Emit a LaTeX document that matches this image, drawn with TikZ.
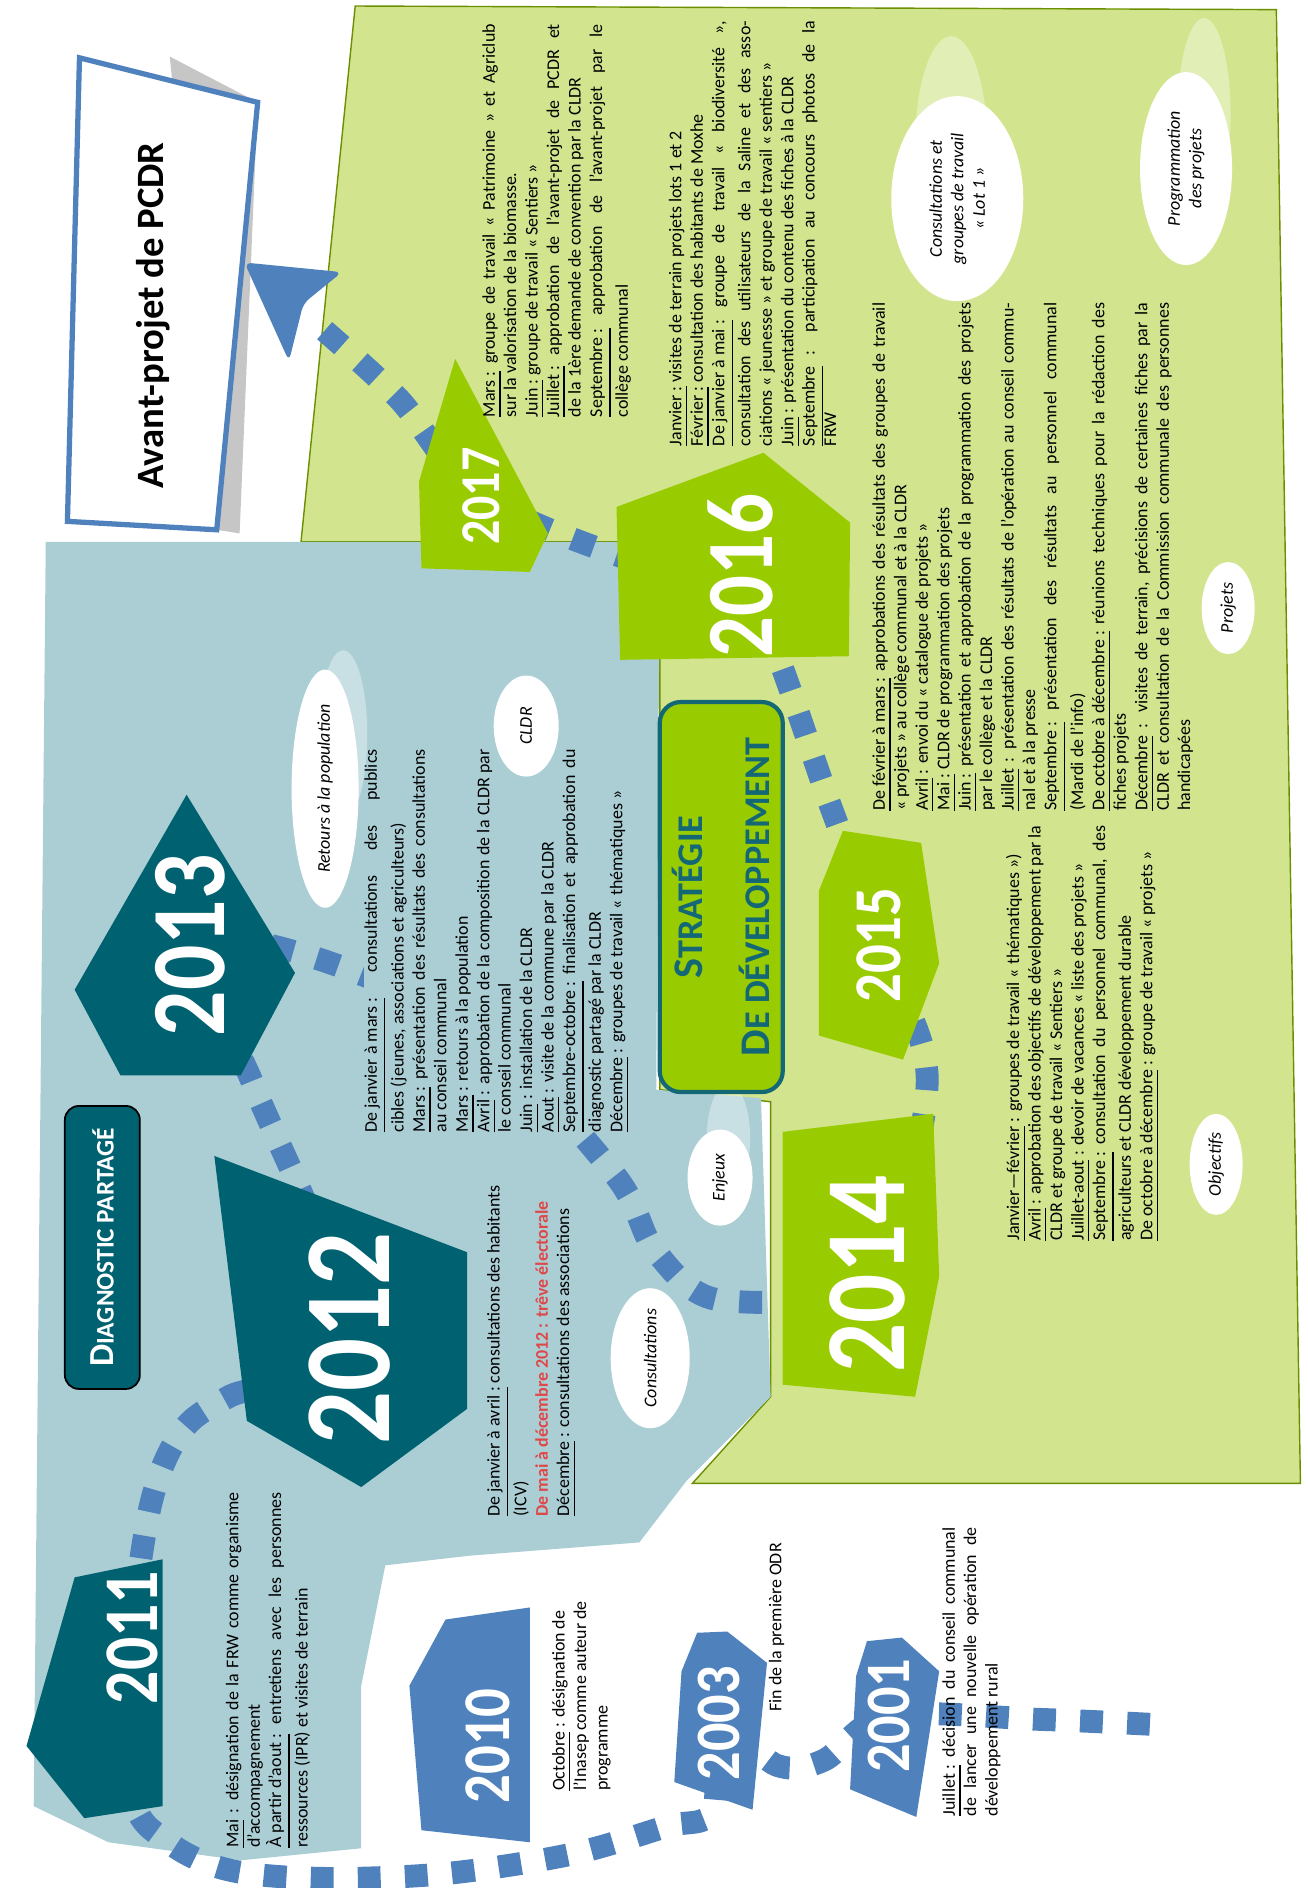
\documentclass[tikz,border=0pt]{standalone}
\usepackage{fontspec}
\setmainfont{Carlito}
\usetikzlibrary{positioning,shapes.geometric}

\definecolor{bleufond}{RGB}{171,206,213}
\definecolor{vertfond}{RGB}{210,229,142}
\definecolor{sarcelle}{RGB}{0,98,112}
\definecolor{citron}{RGB}{153,204,0}
\definecolor{acier}{RGB}{79,129,189}
\definecolor{rougetxt}{RGB}{222,72,72}
\definecolor{titretxt}{RGB}{20,104,118}
\newcommand{\mois}[1]{\underline{#1}}

\begin{document}
\begin{tikzpicture}[x=0.012044cm, y=-0.012044cm,
    every node/.style={inner sep=0pt},
    bloc/.style={rotate=90, anchor=north west, align=justify, font=\fontsize{5.1}{6.1}\selectfont},
    annee/.style={rotate=90, text=white},
    bulle/.style={ellipse, fill=white, rotate=90, align=center, font=\fontsize{5.1}{6.1}\selectfont\itshape},
    reflet/.style={white, opacity=0.35},
    chemin/.style={draw=acier, line width=6.5pt, dash pattern=on 6.5pt off 6.9pt}]

    \useasboundingbox (0,0) rectangle (1086,1568);

    % fonds
    \fill[vertfond, draw=citron!70!black, line width=0.4pt] (295,5) -- (1060,8) -- (1080,1232) -- (575,1232) -- (640,1160) -- (640,915)
        -- (548,905) -- (548,450) -- (250,450) -- cycle;
    \fill[bleufond] (38,450) -- (548,450) -- (545,905) -- (632,912) -- (640,1160) -- (570,1230) -- (531,1281)
        -- (390,1292) -- (320,1300) -- (300,1400) -- (300,1535) -- (200,1545) -- (90,1530) -- (28,1500) -- cycle;

    % encadre avant-projet
    \fill[gray!45] (141,47) -- (214,85) -- (199,443) -- (180,440) -- cycle;
    \draw[acier, fill=white, line width=1.5pt] (66,48) -- (214,85) -- (180,440) -- (56,433) -- cycle;
    \node[rotate=90, font=\fontsize{11}{13}\selectfont\bfseries] (avantprojet) at (127,262) {Avant-projet de PCDR};

    % points de passage
    \coordinate (c2001) at (738,1425);
    \coordinate (c2003) at (597,1431);
    \coordinate (c2010) at (405,1450);
    \coordinate (c2011) at (110,1360);
    \coordinate (c2012) at (290,1112);
    \coordinate (c2013) at (158,785);
    \coordinate (c2014) at (720,1058);
    \coordinate (c2015) at (730,785);
    \coordinate (c2016) at (615,478);
    \coordinate (c2017) at (400,412);

    % chemin en pointilles
    \draw[chemin] plot[smooth, tension=0.55] coordinates {(955,1432) (865,1428) (c2001) (684,1462) (645,1466) (c2003)
        (592,1504) (553,1517) (474,1540) (370,1556) (268,1560) (190,1553) (140,1530) (110,1490) (c2011) (125,1250)
        (150,1190) (190,1160) (c2012)
        (210,900) (c2013) (260,795) (400,860) (510,975) (545,1040) (600,1080) (c2014) (770,900) (c2015)
        (690,670) (c2016) (540,470) (c2017) (330,330) (255,262)};
    \fill[acier, rounded corners=2pt] (203,218) -- (284,226) -- (252,252) -- (240,300) -- cycle;

    % formes des annees
    \fill[sarcelle] (22,1450) -- (62,1310) -- (135,1295) -- (135,1500) -- (70,1510) -- cycle;
    \fill[sarcelle] (178,960) -- (388,1040) -- (388,1170) -- (300,1235) -- (205,1180) -- cycle;
    \fill[sarcelle] (62,822) -- (155,660) -- (245,808) -- (200,893) -- (100,893) -- cycle;
    \fill[citron] (650,940) -- (775,925) -- (780,1060) -- (760,1160) -- (650,1150) -- cycle;
    \fill[citron] (680,740) -- (700,690) -- (765,700) -- (780,800) -- (750,880) -- (680,860) -- cycle;
    \fill[citron] (512,421) -- (634,376) -- (706,434) -- (705,545) -- (515,548) -- cycle;
    \fill[citron] (350,472) -- (348,400) -- (378,298) -- (455,443) -- (440,475) -- cycle;
    \fill[acier] (340,1400) -- (370,1345) -- (440,1335) -- (440,1530) -- (350,1520) -- cycle;
    \fill[acier] (579,1356) -- (604,1355) -- (637,1381) -- (625,1503) -- (560,1480) -- (566,1388) -- cycle;
    \fill[acier] (720,1363) -- (749,1360) -- (780,1388) -- (761,1509) -- (706,1486) -- (711,1392) -- cycle;

    \node[annee, font=\fontsize{22}{22}\selectfont\bfseries, xscale=0.85] (a2011) at (c2011) {2011};
    \node[annee, font=\fontsize{35}{35}\selectfont\bfseries, xscale=0.85] (a2012) at (c2012) {2012};
    \node[annee, font=\fontsize{30}{30}\selectfont\bfseries, xscale=0.85] (a2013) at (c2013) {2013};
    \node[annee, font=\fontsize{32.5}{33}\selectfont\bfseries, xscale=0.85] (a2014) at (c2014) {2014};
    \node[annee, font=\fontsize{19}{19}\selectfont\bfseries, xscale=0.85] (a2015) at (c2015) {2015};
    \node[annee, font=\fontsize{27}{27}\selectfont\bfseries, xscale=0.85] (a2016) at (c2016) {2016};
    \node[annee, font=\fontsize{16}{16}\selectfont\bfseries, xscale=0.85] (a2017) at (c2017) {2017};
    \node[annee, font=\fontsize{19}{19}\selectfont\bfseries, xscale=0.85] (a2010) at (c2010) {2010};
    \node[annee, font=\fontsize{18}{18}\selectfont\bfseries, xscale=0.89] (a2003) at (c2003) {2003};
    \node[annee, font=\fontsize{18}{18}\selectfont\bfseries, xscale=0.89] (a2001) at (c2001) {2001};

    % textes
    \node[bloc, text width=3.93cm] (t2017) at (400,347) {\mois{Mars :} groupe de travail « Patrimoine » et Agriclub\linebreak
        sur la valorisation de la biomasse.\par
        \mois{Juin :} groupe de travail « Sentiers »\par
        \mois{Juillet :} approbation de l’avant-projet de PCDR et\linebreak de la 1ère demande de convention par la CLDR\par
        \mois{Septembre :} approbation de l’avant-projet par le\linebreak collège communal};
    \node[bloc, text width=4.25cm] (t2016) at (555,371) {\mois{Janvier :} visites de terrain projets lots 1 et 2\par
        \mois{Février :} consultation des habitants de Moxhe\par
        \mois{De janvier à mai :} groupe de travail « biodiversité »,\linebreak consultation des utilisateurs de la Saline et des asso-\linebreak
        ciations « jeunesse » et groupe de travail « sentiers »\par
        \mois{Juin} : présentation du contenu des fiches à la CLDR\par
        \mois{Septembre} : participation au concours photos de la\linebreak FRW};
    \node[bloc, text width=5.08cm] (t2015) at (724,674) {\mois{De février à mars :} approbations des résultats des groupes de travail\linebreak
        « projets » au collège communal et à la CLDR\par
        \mois{Avril} : envoi du « catalogue de projets »\par
        \mois{Mai :} CLDR de programmation des projets\par
        \mois{Juin :} présentation et approbation de la programmation des projets\linebreak par le collège et la CLDR\par
        \mois{Juillet} : présentation des résultats de l’opération au conseil commu-\linebreak nal et à la presse\par
        \mois{Septembre :} présentation des résultats au personnel communal\linebreak (Mardi de l’info)\par
        \mois{De octobre à décembre :} réunions techniques pour la rédaction des\linebreak fiches projets\par
        \mois{Décembre} : visites de terrain, précisions de certaines fiches par la\linebreak
        CLDR et consultation de la Commission communale des personnes\linebreak handicapées};
    \node[bloc, text width=4.15cm] (t2014) at (835,1031) {\mois{Janvier—février} : groupes de travail « thématiques »)\par
        \mois{Avril} : approbation des objectifs de développement par la\linebreak CLDR et groupe de travail « Sentiers »\par
        \mois{Juillet-aout} : devoir de vacances « liste des projets »\par
        \mois{Septembre :} consultation du personnel communal, des\linebreak agriculteurs et CLDR développement durable\par
        \mois{De octobre à décembre} : groupe de travail « projets »};
    \node[bloc, text width=3.83cm, fill=bleufond] (t2013) at (302,941) {\mois{De janvier à mars :} consultations des publics\linebreak
        cibles (jeunes, associations et agriculteurs)\par
        \mois{Mars :} présentation des résultats des consultations\linebreak au conseil communal\par
        \mois{Mars} : retours à la population\par
        \mois{Avril} : approbation de la composition de la CLDR par\linebreak le conseil communal\par
        \mois{Juin} : installation de la CLDR\par
        \mois{Aout} : visite de la commune par la CLDR\par
        \mois{Septembre-octobre :} finalisation et approbation du\linebreak diagnostic partagé par la CLDR\par
        \mois{Décembre} : groupes de travail « thématiques »};
    \node[bloc, text width=3.31cm] (t2012) at (404,1260) {\mois{De janvier à avril :} consultations des habitants\linebreak (ICV)\par
        {\color{rougetxt}\bfseries De mai à décembre 2012 : trêve électorale}\par
        \mois{Décembre} : consultations des associations};
    \node[bloc, text width=3.55cm] (t2011) at (187,1535) {\mois{Mai} : désignation de la FRW comme organisme\linebreak d’accompagnement\par
        \mois{À partir d’aout :} entretiens avec les personnes\linebreak ressources (IPR) et visites de terrain};
    \node[bloc, align=left] (t2010) at (458,1488) {\mois{Octobre} : désignation de\\ l’Inasep comme auteur de\\ programme};
    \node[bloc, align=left] (t2003) at (638,1422) {Fin de la première ODR};
    \node[bloc, text width=2.89cm] (t2001) at (782,1509) {\mois{Juillet :} décision du conseil communal\linebreak
        de lancer une nouvelle opération de\linebreak développement rural};

    % bulles
    \fill[reflet] (285,610) ellipse (20 and 70);
    \fill[reflet] (605,945) ellipse (18 and 45);
    \fill[reflet] (790,120) ellipse (30 and 90);
    \fill[reflet] (1000,95) ellipse (22 and 80);
    \node[bulle, minimum width=1.81cm, minimum height=0.67cm] (retours) at (270,655) {Retours à la population};
    \node[bulle, minimum width=1.01cm, minimum height=0.65cm] (cldr) at (437,603) {CLDR};
    \node[bulle, minimum width=0.96cm, minimum height=0.65cm] (enjeux) at (598,978) {Enjeux};
    \node[bulle, minimum width=1.40cm, minimum height=0.79cm] (consult) at (540,1128) {Consultations};
    \node[bulle, minimum width=2.05cm, minimum height=1.32cm] (lot1) at (795,165) {Consultations et\\ groupes de travail\\ « Lot 1 »};
    \node[bulle, minimum width=1.93cm, minimum height=0.92cm] (progr) at (985,140) {Programmation\\ des projets};
    \node[bulle, minimum width=0.92cm, minimum height=0.53cm] (projets) at (1020,505) {Projets};
    \node[bulle, minimum width=1.01cm, minimum height=0.53cm] (objectifs) at (1010,967) {Objectifs};

    % titres des phases
    \node[rotate=90, fill=citron, draw=titretxt, line width=1.2pt, rounded corners=6pt, minimum width=3.9cm,
        minimum height=1.23cm, align=center, text=titretxt, font=\bfseries] (strategie) at (599,745)
        {{\fontsize{12}{12}\selectfont S}{\fontsize{10.3}{12}\selectfont TRATÉGIE}\\[7pt]
         {\fontsize{12}{12}\selectfont D}{\fontsize{10.3}{12}\selectfont E DÉVELOPPEMENT}};
    \node[rotate=90, fill=sarcelle, draw=black, line width=0.5pt, rounded corners=4pt, minimum width=2.83cm,
        minimum height=0.75cm, text=white, font=\bfseries] (diagnostic) at (85,1036)
        {{\fontsize{10}{10}\selectfont D}{\fontsize{7.2}{10}\selectfont IAGNOSTIC PARTAGÉ}};
\end{tikzpicture}
\end{document}
